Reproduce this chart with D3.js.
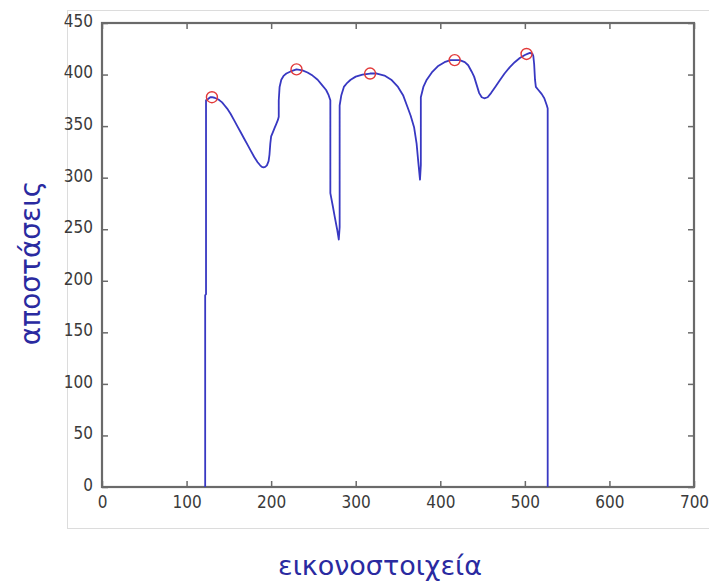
<!DOCTYPE html>
<html><head><meta charset="utf-8">
<script src="https://cdn.jsdelivr.net/npm/d3@7"></script>
<style>body{margin:0;background:#fff}svg{display:block}</style>
</head><body>
<script>
const curveX = [122,122,123,123,125,128,130,133,136,139,142,145,148,152,156,160,164,168,172,176,180,184,187,189,191,193,195,197,198,199,200,202,204,206,208,209,209,210,212,215,218,223,230,237,243,249,255,260,265,268,270,270,273,275,278,280,281,281,283,286,290,294,300,308,317,325,334,342,350,356,361,365,369,372,374,376,377,377,380,384,390,397,405,412,417,423,429,433,437,440,443,446,449,452,456,460,465,470,476,482,488,494,500,503,506,509,510,511,512,513,516,520,523,526,527,527];
const curveY = [0,186,187,375,376,378,378,377.5,376.5,375,373,370,367,362,356,350,344,338,332,326,320,315,312,310.5,310,310.5,312,316,322,333,340,344,348,352,356,359,375,388,395,399,401,403,405,404,402,399,395,390,385,380,375,285,272,263,250,240,252,370,380,388,392,395,398,400,401,401,399,395,388,380,369,360,349,333,315,298,312,378,388,395,402,408,412,414,414,414,412,409,403,398,390,382,378,377,378,382,388,394,401,407,412,416,419,420,421,420,418,410,395,388,385,381,377,370,367,0];
const peakX = [130,230,317,417,502];
const peakY = [378,405,401,414,420];
const xTicks = [0,100,200,300,400,500,600,700];
const yTicks = [0,50,100,150,200,250,300,350,400,450];
const xLabel = "εικονοστοιχεία";
const yLabel = "αποστάσεις";

const W = 709, H = 585;
const svg = d3.select("body").append("svg").attr("width", W).attr("height", H);
svg.append("rect").attr("width", W).attr("height", H).attr("fill", "#fff");
// figure frame
svg.append("rect").attr("x", 67.5).attr("y", 10.5).attr("width", 645).attr("height", 518)
  .attr("fill", "none").attr("stroke", "#dcdcdc").attr("stroke-width", 1);

const L = 102, R = 694, T = 23, B = 487;
const x = d3.scaleLinear().domain([0, 700]).range([L, R]);
const y = d3.scaleLinear().domain([0, 450]).range([B, T]);

const tickFont = "'Liberation Sans Narrow','DejaVu Sans Condensed',Arial,sans-serif";
const axColor = "#6a6a6a";

function styleAxis(g, labels) {
  g.select(".domain").remove();
  g.selectAll(".tick line").attr("stroke", axColor).attr("stroke-width", 1.5);
  g.selectAll(".tick text").attr("fill", "#3a3a3a").style("font-family", tickFont).style("font-size", "17px");
  if (!labels) g.selectAll(".tick text").remove();
}
const gxB = svg.append("g").attr("transform", `translate(0,${B})`)
  .call(d3.axisBottom(x).tickValues(xTicks).tickSizeInner(-6).tickSizeOuter(0).tickPadding(9).tickFormat(d3.format("d")));
styleAxis(gxB, true);
const gxT = svg.append("g").attr("transform", `translate(0,${T})`)
  .call(d3.axisTop(x).tickValues(xTicks).tickSizeInner(-6).tickSizeOuter(0));
styleAxis(gxT, false);
const gyL = svg.append("g").attr("transform", `translate(${L},0)`)
  .call(d3.axisLeft(y).tickValues(yTicks).tickSizeInner(-6).tickSizeOuter(0).tickPadding(9).tickFormat(d3.format("d")));
styleAxis(gyL, true);
gyL.selectAll(".tick text").attr("dy", "0.2em");
const gyR = svg.append("g").attr("transform", `translate(${R},0)`)
  .call(d3.axisRight(y).tickValues(yTicks).tickSizeInner(-6).tickSizeOuter(0));
styleAxis(gyR, false);

// box
svg.append("rect").attr("x", L).attr("y", T).attr("width", R - L).attr("height", B - T)
  .attr("fill", "none").attr("stroke", axColor).attr("stroke-width", 2.2);

const pts = curveX.map((d, i) => [d, curveY[i]]);
const line = d3.line().x(d => x(d[0])).y(d => y(d[1])).curve(d3.curveLinear);
svg.append("path").datum(pts).attr("d", line).attr("fill", "none")
  .attr("stroke", "#3838c2").attr("stroke-width", 1.8).attr("stroke-linejoin", "round");

svg.append("g").selectAll("circle").data(peakX.map((d, i) => [d, peakY[i]])).join("circle")
  .attr("cx", d => x(d[0])).attr("cy", d => y(d[1])).attr("r", 5.5)
  .attr("fill", "none").attr("stroke", "#e23a3a").attr("stroke-width", 1.4);

const labFont = "'DejaVu Sans',Verdana,sans-serif";
svg.append("text").attr("x", 380).attr("y", 575).attr("text-anchor", "middle")
  .attr("fill", "#2a2aa0").style("font-family", labFont).style("font-size", "27px").text(xLabel);
svg.append("text").attr("transform", "translate(40,263) rotate(-90)").attr("text-anchor", "middle")
  .attr("fill", "#2a2aa0").style("font-family", labFont).style("font-size", "28px").text(yLabel);
</script>
</body></html>
